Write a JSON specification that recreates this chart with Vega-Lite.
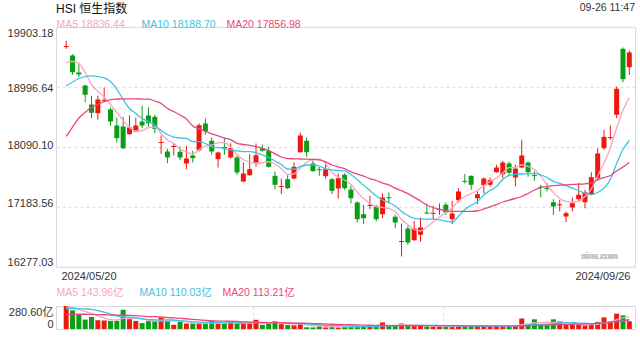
{
"$schema":"https://vega.github.io/schema/vega-lite/v6.json",
"background":"white",
"padding":{"left":6,"top":2,"right":4,"bottom":0},
"title":{"text":"09-26 11:47","anchor":"end","frame":"group","fontSize":10.5,"fontWeight":"normal","color":"#333","offset":-11},
"config":{"font":"Liberation Sans, Noto Sans CJK SC","view":{"stroke":"#d9d9d9","strokeWidth":1},"axis":{"labelFont":"Liberation Sans, Noto Sans CJK SC","labelColor":"#333","ticks":false,"tickSize":0,"domain":false,"title":null}},
"resolve":{"scale":{"color":"independent"},"legend":{"color":"independent"}},
"spacing":5,
"datasets":{"k":[
{"i":0,"d":"2024/05/20","o":19600,"h":19695,"l":19574,"c":19616,"v":280.6,"m5":19364,"m10":19012,"m20":18249,"vm5":270,"vm10":250,"vm20":175},
{"i":1,"d":"2024/05/21","o":19473,"h":19492,"l":19181,"c":19220,"v":227,"m5":19382,"m10":19072,"m20":18392,"vm5":265,"vm10":250,"vm20":178},
{"i":2,"d":"2024/05/22","o":19216,"h":19352,"l":19145,"c":19186,"v":179,"m5":19352,"m10":19125,"m20":18528,"vm5":240,"vm10":248,"vm20":180},
{"i":3,"d":"2024/05/23","o":19019,"h":19030,"l":18767,"c":18879,"v":115,"m5":19216,"m10":19155,"m20":18614,"vm5":215,"vm10":245,"vm20":180},
{"i":4,"d":"2024/05/24","o":18732,"h":18864,"l":18525,"c":18607,"v":147,"m5":19034,"m10":19166,"m20":18691,"vm5":190,"vm10":240,"vm20":178},
{"i":5,"d":"2024/05/27","o":18601,"h":18864,"l":18501,"c":18808,"v":107,"m5":18929,"m10":19155,"m20":18735,"vm5":160,"vm10":225,"vm20":176},
{"i":6,"d":"2024/05/28","o":18788,"h":18989,"l":18767,"c":18803,"v":104,"m5":18846,"m10":19133,"m20":18775,"vm5":135,"vm10":205,"vm20":174},
{"i":7,"d":"2024/05/29","o":18657,"h":18687,"l":18415,"c":18475,"v":99,"m5":18732,"m10":19080,"m20":18805,"vm5":115,"vm10":180,"vm20":170},
{"i":8,"d":"2024/05/30","o":18415,"h":18536,"l":18158,"c":18223,"v":99,"m5":18611,"m10":18966,"m20":18815,"vm5":110,"vm10":160,"vm20":168},
{"i":9,"d":"2024/05/31","o":18400,"h":18546,"l":18060,"c":18072,"v":235,"m5":18491,"m10":18808,"m20":18818,"vm5":130,"vm10":150,"vm20":168},
{"i":10,"d":"2024/06/03","o":18284,"h":18566,"l":18275,"c":18385,"v":120,"m5":18385,"m10":18672,"m20":18818,"vm5":130,"vm10":145,"vm20":166},
{"i":11,"d":"2024/06/04","o":18324,"h":18536,"l":18312,"c":18415,"v":99,"m5":18332,"m10":18596,"m20":18817,"vm5":130,"vm10":135,"vm20":162},
{"i":12,"d":"2024/06/05","o":18475,"h":18717,"l":18374,"c":18415,"v":72,"m5":18339,"m10":18521,"m20":18814,"vm5":125,"vm10":125,"vm20":158},
{"i":13,"d":"2024/06/06","o":18566,"h":18692,"l":18400,"c":18450,"v":96,"m5":18385,"m10":18475,"m20":18812,"vm5":105,"vm10":115,"vm20":152},
{"i":14,"d":"2024/06/07","o":18546,"h":18577,"l":18299,"c":18365,"v":99,"m5":18392,"m10":18423,"m20":18785,"vm5":95,"vm10":112,"vm20":150},
{"i":15,"d":"2024/06/11","o":18150,"h":18264,"l":17987,"c":18166,"v":144,"m5":18294,"m10":18339,"m20":18747,"vm5":100,"vm10":110,"vm20":145},
{"i":16,"d":"2024/06/12","o":18022,"h":18063,"l":17845,"c":17932,"v":99,"m5":18196,"m10":18279,"m20":18672,"vm5":100,"vm10":112,"vm20":140},
{"i":17,"d":"2024/06/13","o":18090,"h":18148,"l":17962,"c":18106,"v":51,"m5":18143,"m10":18241,"m20":18627,"vm5":95,"vm10":110,"vm20":135},
{"i":18,"d":"2024/06/14","o":18018,"h":18098,"l":17891,"c":17932,"v":88,"m5":18060,"m10":18226,"m20":18574,"vm5":95,"vm10":102,"vm20":130},
{"i":19,"d":"2024/06/17","o":17841,"h":18108,"l":17755,"c":17916,"v":67,"m5":18015,"m10":18219,"m20":18513,"vm5":90,"vm10":95,"vm20":125},
{"i":20,"d":"2024/06/18","o":17962,"h":18033,"l":17856,"c":17921,"v":67,"m5":17984,"m10":18173,"m20":18407,"vm5":75,"vm10":88,"vm20":118},
{"i":21,"d":"2024/06/19","o":18042,"h":18445,"l":18022,"c":18420,"v":72,"m5":18052,"m10":18170,"m20":18365,"vm5":70,"vm10":85,"vm20":112},
{"i":22,"d":"2024/06/20","o":18445,"h":18521,"l":18274,"c":18329,"v":67,"m5":18105,"m10":18143,"m20":18327,"vm5":68,"vm10":82,"vm20":106},
{"i":23,"d":"2024/06/21","o":18184,"h":18234,"l":17972,"c":18022,"v":99,"m5":18123,"m10":18092,"m20":18290,"vm5":75,"vm10":82,"vm20":100},
{"i":24,"d":"2024/06/24","o":17906,"h":18022,"l":17780,"c":18007,"v":67,"m5":18151,"m10":18080,"m20":18258,"vm5":75,"vm10":80,"vm20":97},
{"i":25,"d":"2024/06/25","o":18090,"h":18234,"l":17972,"c":18074,"v":61,"m5":18158,"m10":18067,"m20":18226,"vm5":72,"vm10":74,"vm20":95},
{"i":26,"d":"2024/06/26","o":17932,"h":18148,"l":17916,"c":18072,"v":99,"m5":18089,"m10":18045,"m20":18203,"vm5":80,"vm10":75,"vm20":94},
{"i":27,"d":"2024/06/27","o":17932,"h":17957,"l":17670,"c":17705,"v":67,"m5":17977,"m10":18030,"m20":18146,"vm5":78,"vm10":74,"vm20":92},
{"i":28,"d":"2024/06/28","o":17569,"h":17856,"l":17560,"c":17690,"v":70,"m5":17901,"m10":18021,"m20":18128,"vm5":74,"vm10":72,"vm20":88},
{"i":29,"d":"2024/07/02","o":17664,"h":17981,"l":17655,"c":17755,"v":67,"m5":17860,"m10":18019,"m20":18116,"vm5":72,"vm10":73,"vm20":85},
{"i":30,"d":"2024/07/03","o":17856,"h":18143,"l":17791,"c":17966,"v":112,"m5":17841,"m10":18003,"m20":18096,"vm5":82,"vm10":77,"vm20":82},
{"i":31,"d":"2024/07/04","o":18067,"h":18128,"l":18018,"c":18033,"v":51,"m5":17851,"m10":17969,"m20":18069,"vm5":74,"vm10":75,"vm20":80},
{"i":32,"d":"2024/07/05","o":18033,"h":18093,"l":17780,"c":17791,"v":67,"m5":17867,"m10":17932,"m20":18036,"vm5":74,"vm10":76,"vm20":79},
{"i":33,"d":"2024/07/08","o":17655,"h":17720,"l":17453,"c":17519,"v":94,"m5":17833,"m10":17879,"m20":17987,"vm5":80,"vm10":78,"vm20":78},
{"i":34,"d":"2024/07/09","o":17485,"h":17614,"l":17377,"c":17500,"v":59,"m5":17765,"m10":17826,"m20":17939,"vm5":77,"vm10":75,"vm20":77},
{"i":35,"d":"2024/07/10","o":17604,"h":17664,"l":17453,"c":17468,"v":48,"m5":17675,"m10":17758,"m20":17916,"vm5":64,"vm10":73,"vm20":75},
{"i":36,"d":"2024/07/11","o":17614,"h":17856,"l":17600,"c":17791,"v":45,"m5":17682,"m10":17755,"m20":17912,"vm5":63,"vm10":69,"vm20":72},
{"i":37,"d":"2024/07/12","o":18012,"h":18309,"l":18005,"c":18264,"v":67,"m5":17773,"m10":17796,"m20":17909,"vm5":63,"vm10":68,"vm20":71},
{"i":38,"d":"2024/07/15","o":18184,"h":18234,"l":17942,"c":18012,"v":21,"m5":17856,"m10":17818,"m20":17906,"vm5":48,"vm10":64,"vm20":69},
{"i":39,"d":"2024/07/16","o":17841,"h":17882,"l":17715,"c":17725,"v":19,"m5":17904,"m10":17821,"m20":17901,"vm5":40,"vm10":58,"vm20":66},
{"i":40,"d":"2024/07/17","o":17755,"h":17791,"l":17655,"c":17740,"v":32,"m5":17906,"m10":17803,"m20":17897,"vm5":37,"vm10":50,"vm20":64},
{"i":41,"d":"2024/07/18","o":17649,"h":17845,"l":17614,"c":17755,"v":19,"m5":17841,"m10":17761,"m20":17864,"vm5":28,"vm10":45,"vm20":61},
{"i":42,"d":"2024/07/19","o":17604,"h":17619,"l":17377,"c":17428,"v":32,"m5":17705,"m10":17743,"m20":17818,"vm5":25,"vm10":44,"vm20":58},
{"i":43,"d":"2024/07/22","o":17463,"h":17690,"l":17312,"c":17619,"v":19,"m5":17637,"m10":17735,"m20":17788,"vm5":25,"vm10":44,"vm20":56},
{"i":44,"d":"2024/07/23","o":17670,"h":17694,"l":17443,"c":17468,"v":25,"m5":17592,"m10":17728,"m20":17765,"vm5":25,"vm10":38,"vm20":54},
{"i":45,"d":"2024/07/24","o":17448,"h":17504,"l":17241,"c":17317,"v":30,"m5":17524,"m10":17675,"m20":17717,"vm5":26,"vm10":34,"vm20":52},
{"i":46,"d":"2024/07/25","o":17252,"h":17267,"l":16949,"c":16999,"v":40,"m5":17409,"m10":17599,"m20":17681,"vm5":30,"vm10":30,"vm20":50},
{"i":47,"d":"2024/07/26","o":17075,"h":17217,"l":16924,"c":17014,"v":30,"m5":17312,"m10":17511,"m20":17649,"vm5":32,"vm10":29,"vm20":48},
{"i":48,"d":"2024/07/29","o":17200,"h":17353,"l":17150,"c":17215,"v":25,"m5":17236,"m10":17433,"m20":17614,"vm5":31,"vm10":28,"vm20":46},
{"i":49,"d":"2024/07/30","o":17191,"h":17217,"l":16965,"c":16999,"v":30,"m5":17191,"m10":17350,"m20":17584,"vm5":32,"vm10":29,"vm20":44},
{"i":50,"d":"2024/07/31","o":17075,"h":17388,"l":17014,"c":17327,"v":80,"m5":17176,"m10":17289,"m20":17545,"vm5":43,"vm10":35,"vm20":42},
{"i":51,"d":"2024/08/01","o":17332,"h":17403,"l":17237,"c":17316,"v":35,"m5":17158,"m10":17252,"m20":17519,"vm5":44,"vm10":38,"vm20":41},
{"i":52,"d":"2024/08/02","o":17036,"h":17066,"l":16863,"c":16949,"v":40,"m5":17116,"m10":17199,"m20":17468,"vm5":45,"vm10":40,"vm20":40},
{"i":53,"d":"2024/08/05","o":16655,"h":16934,"l":16436,"c":16670,"v":67,"m5":16995,"m10":17116,"m20":17430,"vm5":52,"vm10":42,"vm20":40},
{"i":54,"d":"2024/08/06","o":16859,"h":16900,"l":16613,"c":16647,"v":40,"m5":16919,"m10":17055,"m20":17385,"vm5":52,"vm10":42,"vm20":40},
{"i":55,"d":"2024/08/07","o":16682,"h":16975,"l":16672,"c":16859,"v":35,"m5":16844,"m10":17010,"m20":17333,"vm5":46,"vm10":45,"vm20":40},
{"i":56,"d":"2024/08/08","o":16764,"h":17025,"l":16662,"c":16874,"v":40,"m5":16821,"m10":16999,"m20":17274,"vm5":45,"vm10":44,"vm20":40},
{"i":57,"d":"2024/08/09","o":17100,"h":17237,"l":17075,"c":17085,"v":30,"m5":16880,"m10":16999,"m20":17214,"vm5":42,"vm10":44,"vm20":40},
{"i":58,"d":"2024/08/12","o":17080,"h":17202,"l":16999,"c":17095,"v":25,"m5":16958,"m10":16999,"m20":17176,"vm5":36,"vm10":44,"vm20":40},
{"i":59,"d":"2024/08/13","o":17140,"h":17237,"l":17066,"c":17156,"v":30,"m5":17031,"m10":16990,"m20":17149,"vm5":32,"vm10":42,"vm20":40},
{"i":60,"d":"2024/08/14","o":17217,"h":17252,"l":17066,"c":17101,"v":30,"m5":17101,"m10":16971,"m20":17126,"vm5":31,"vm10":40,"vm20":40},
{"i":61,"d":"2024/08/15","o":16999,"h":17277,"l":16924,"c":17085,"v":35,"m5":17173,"m10":16955,"m20":17116,"vm5":30,"vm10":38,"vm20":40},
{"i":62,"d":"2024/08/16","o":17286,"h":17468,"l":17252,"c":17418,"v":45,"m5":17276,"m10":17045,"m20":17116,"vm5":33,"vm10":37,"vm20":40},
{"i":63,"d":"2024/08/19","o":17579,"h":17679,"l":17539,"c":17564,"v":30,"m5":17342,"m10":17146,"m20":17116,"vm5":34,"vm10":35,"vm20":39},
{"i":64,"d":"2024/08/20","o":17655,"h":17660,"l":17443,"c":17519,"v":30,"m5":17388,"m10":17209,"m20":17116,"vm5":34,"vm10":33,"vm20":39},
{"i":65,"d":"2024/08/21","o":17317,"h":17418,"l":17226,"c":17377,"v":30,"m5":17433,"m10":17267,"m20":17123,"vm5":34,"vm10":32,"vm20":38},
{"i":66,"d":"2024/08/22","o":17513,"h":17629,"l":17388,"c":17614,"v":35,"m5":17508,"m10":17365,"m20":17153,"vm5":34,"vm10":33,"vm20":38},
{"i":67,"d":"2024/08/23","o":17519,"h":17629,"l":17489,"c":17589,"v":30,"m5":17569,"m10":17433,"m20":17184,"vm5":31,"vm10":33,"vm20":38},
{"i":68,"d":"2024/08/26","o":17709,"h":17821,"l":17705,"c":17780,"v":30,"m5":17622,"m10":17493,"m20":17221,"vm5":31,"vm10":33,"vm20":37},
{"i":69,"d":"2024/08/27","o":17679,"h":17882,"l":17619,"c":17856,"v":35,"m5":17697,"m10":17599,"m20":17259,"vm5":32,"vm10":33,"vm20":37},
{"i":70,"d":"2024/08/28","o":17841,"h":17871,"l":17649,"c":17700,"v":35,"m5":17780,"m10":17660,"m20":17289,"vm5":33,"vm10":33,"vm20":37},
{"i":71,"d":"2024/08/29","o":17629,"h":17821,"l":17493,"c":17765,"v":40,"m5":17780,"m10":17675,"m20":17312,"vm5":34,"vm10":34,"vm20":37},
{"i":72,"d":"2024/08/30","o":17780,"h":18199,"l":17770,"c":17962,"v":128,"m5":17818,"m10":17682,"m20":17342,"vm5":54,"vm10":42,"vm20":39},
{"i":73,"d":"2024/09/02","o":17856,"h":17870,"l":17640,"c":17709,"v":60,"m5":17796,"m10":17685,"m20":17388,"vm5":59,"vm10":46,"vm20":41},
{"i":74,"d":"2024/09/03","o":17665,"h":17720,"l":17579,"c":17650,"v":118,"m5":17750,"m10":17693,"m20":17440,"vm5":76,"vm10":55,"vm20":44},
{"i":75,"d":"2024/09/04","o":17490,"h":17519,"l":17332,"c":17475,"v":50,"m5":17649,"m10":17667,"m20":17478,"vm5":79,"vm10":57,"vm20":46},
{"i":76,"d":"2024/09/05","o":17470,"h":17543,"l":17418,"c":17455,"v":45,"m5":17516,"m10":17629,"m20":17493,"vm5":80,"vm10":58,"vm20":48},
{"i":77,"d":"2024/09/09","o":17256,"h":17301,"l":17066,"c":17191,"v":118,"m5":17403,"m10":17572,"m20":17508,"vm5":80,"vm10":67,"vm20":50},
{"i":78,"d":"2024/09/10","o":17210,"h":17292,"l":17116,"c":17225,"v":94,"m5":17312,"m10":17539,"m20":17513,"vm5":87,"vm10":73,"vm20":53},
{"i":79,"d":"2024/09/11","o":17040,"h":17116,"l":16954,"c":17090,"v":60,"m5":17267,"m10":17508,"m20":17519,"vm5":77,"vm10":76,"vm20":56},
{"i":80,"d":"2024/09/12","o":17176,"h":17327,"l":17116,"c":17241,"v":50,"m5":17255,"m10":17471,"m20":17524,"vm5":73,"vm10":78,"vm20":58},
{"i":81,"d":"2024/09/13","o":17301,"h":17543,"l":17267,"c":17368,"v":50,"m5":17271,"m10":17433,"m20":17528,"vm5":64,"vm10":72,"vm20":60},
{"i":82,"d":"2024/09/16","o":17256,"h":17443,"l":17165,"c":17403,"v":45,"m5":17342,"m10":17391,"m20":17534,"vm5":52,"vm10":70,"vm20":62},
{"i":83,"d":"2024/09/17","o":17383,"h":17709,"l":17368,"c":17634,"v":60,"m5":17456,"m10":17369,"m20":17546,"vm5":53,"vm10":65,"vm20":64},
{"i":84,"d":"2024/09/19","o":17619,"h":18072,"l":17594,"c":17992,"v":86,"m5":17652,"m10":17403,"m20":17593,"vm5":58,"vm10":70,"vm20":68},
{"i":85,"d":"2024/09/20","o":18072,"h":18350,"l":18048,"c":18244,"v":142,"m5":17848,"m10":17471,"m20":17629,"vm5":77,"vm10":75,"vm20":74},
{"i":86,"d":"2024/09/23","o":18225,"h":18415,"l":18199,"c":18240,"v":94,"m5":18074,"m10":17599,"m20":17660,"vm5":85,"vm10":81,"vm20":80},
{"i":87,"d":"2024/09/24","o":18577,"h":19004,"l":18525,"c":18970,"v":187,"m5":18376,"m10":17841,"m20":17728,"vm5":114,"vm10":96,"vm20":90},
{"i":88,"d":"2024/09/25","o":19574,"h":19594,"l":19069,"c":19115,"v":166,"m5":18642,"m10":18052,"m20":17788,"vm5":135,"vm10":102,"vm20":100},
{"i":89,"d":"2024/09/26","o":19296,"h":19548,"l":19181,"c":19518,"v":94,"m5":18836.44,"m10":18188.70,"m20":17856.98,"vm5":143.96,"vm10":110.03,"vm20":113.21}
]},
"vconcat":[
{
"width":579,"height":240,
"title":{"text":"HSI 恒生指数","anchor":"start","frame":"group","fontSize":12,"fontWeight":"normal","color":"#111","offset":4.5},
"data":{"name":"k"},
"layer":[
{"mark":{"type":"rule","strokeWidth":1},
"encoding":{
"x":{"field":"i","type":"quantitative","scale":{"domain":[-0.823,89.11],"nice":false,"zero":false},
"axis":{"values":[-0.823,89.11],"labelExpr":"datum.value < 1 ? '2024/05/20' : '2024/09/26'","labelFlush":false,"labelAlign":{"condition":{"test":"datum.value < 1","value":"left"},"value":"right"},"grid":false,"labelPadding":3,"labelFontSize":11}},
"y":{"field":"l","type":"quantitative","scale":{"domain":[16277.03,19903.18],"nice":false,"zero":false},
"axis":{"values":[16277.03,17183.56,18090.10,18996.64,19903.18],"format":".2f","labelFlush":true,"labelFlushOffset":0,
"labelOffset":{"condition":[{"test":"datum.value > 18900 && datum.value < 19000","value":1.5},{"test":"datum.value > 18000 && datum.value < 18100","value":-1.5},{"test":"datum.value > 17100 && datum.value < 17200","value":-3.5}],"value":0},
"grid":true,"gridDash":[3,3],"gridColor":"#e3e3e3","gridWidth":1.5,"labelPadding":3,"labelFontSize":11}},
"y2":{"field":"h"},
"color":{"condition":{"test":"datum.c >= datum.o","value":"#f0170f"},"value":"#0a9e15"}}},
{"mark":{"type":"bar","width":5},
"encoding":{
"x":{"field":"i","type":"quantitative"},
"y":{"field":"o","type":"quantitative"},
"y2":{"field":"c"},
"color":{"condition":{"test":"datum.c >= datum.o","value":"#f0170f"},"value":"#0a9e15"}}},
{"transform":[{"fold":["m5","m10","m20"],"as":["ma","val"]}],
"mark":{"type":"line","strokeWidth":1.3,"interpolate":"monotone"},
"encoding":{
"x":{"field":"i","type":"quantitative"},
"y":{"field":"val","type":"quantitative"},
"color":{"field":"ma","type":"nominal","scale":{"domain":["m5","m10","m20"],"range":["#f7a5c3","#3cc3e5","#ea477d"]},
"legend":{"orient":"top","direction":"horizontal","title":null,"symbolType":"circle","symbolSize":0,"symbolStrokeWidth":0,"symbolOpacity":0,"labelOffset":-10,"labelFontSize":10.5,"columnPadding":10,"gridAlign":"all","padding":0,"offset":-3.5,
"labelExpr":"datum.value == 'm5' ? 'MA5 18836.44' : datum.value == 'm10' ? 'MA10 18188.70' : 'MA20 17856.98'",
"labelColor":{"expr":"datum.value == 'm5' ? '#f7a5c3' : datum.value == 'm10' ? '#3cc3e5' : '#ea477d'"}}}}},
{"mark":{"type":"text","align":"center","baseline":"middle","fontSize":9,"color":"#c9c9c9"},
"encoding":{"x":{"datum":84.3,"type":"quantitative"},"y":{"datum":16450,"type":"quantitative"},"text":{"value":"sina.com"}}}
]
},
{
"width":579,"height":23,
"data":{"name":"k"},
"layer":[
{"mark":{"type":"bar","width":5},
"encoding":{
"x":{"field":"i","type":"quantitative","scale":{"domain":[-0.823,89.11],"nice":false,"zero":false},
"axis":{"values":[29.47,59.52],"labels":false,"grid":true,"gridDash":[3,3],"gridColor":"#dddddd","gridWidth":1}},
"y":{"field":"v","type":"quantitative","scale":{"domain":[0,280.6],"nice":false},
"axis":{"values":[0,280.6],"labelExpr":"datum.value > 1 ? '280.60亿' : '0'","labelFlush":true,"labelFlushOffset":0,"grid":false,"labelPadding":3,"labelFontSize":11}},
"color":{"condition":{"test":"datum.c >= datum.o","value":"#f0170f"},"value":"#0a9e15"}}},
{"transform":[{"fold":["vm5","vm10","vm20"],"as":["ma","val"]}],
"mark":{"type":"line","strokeWidth":1.3,"interpolate":"monotone"},
"encoding":{
"x":{"field":"i","type":"quantitative"},
"y":{"field":"val","type":"quantitative"},
"color":{"field":"ma","type":"nominal","scale":{"domain":["vm5","vm10","vm20"],"range":["#f7a5c3","#3cc3e5","#ea477d"]},
"legend":{"orient":"top","direction":"horizontal","title":null,"symbolType":"circle","symbolSize":0,"symbolStrokeWidth":0,"symbolOpacity":0,"labelOffset":-10,"labelFontSize":10.5,"columnPadding":10,"gridAlign":"all","padding":0,"offset":5,
"labelExpr":"datum.value == 'vm5' ? 'MA5 143.96亿' : datum.value == 'vm10' ? 'MA10 110.03亿' : 'MA20 113.21亿'",
"labelColor":{"expr":"datum.value == 'vm5' ? '#f7a5c3' : datum.value == 'vm10' ? '#3cc3e5' : '#ea477d'"}}}}}
]
}
]
}
